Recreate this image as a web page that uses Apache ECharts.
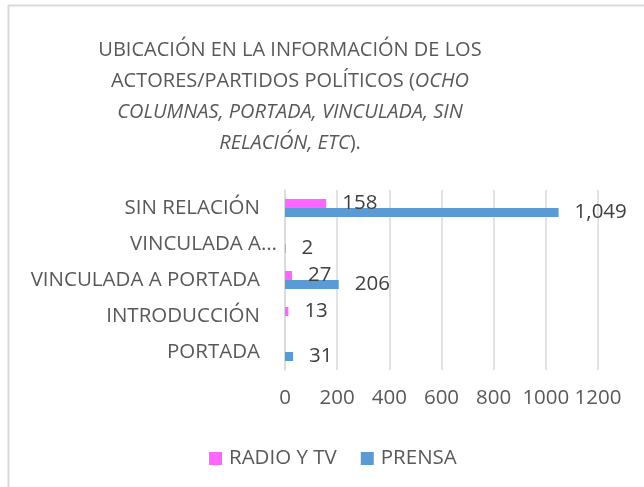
<!DOCTYPE html>
<html><head><meta charset="utf-8">
<script src="https://cdn.jsdelivr.net/npm/echarts@6/dist/echarts.min.js"></script>
<style>html,body{margin:0;padding:0;background:#fff}#c{width:644px;height:487px}</style>
</head><body><div id="c"></div>
<script>
const categories = ['PORTADA', 'INTRODUCCIÓN', 'VINCULADA A PORTADA', 'VINCULADA A…', 'SIN RELACIÓN'];
const radioTv = [null, 13, 27, null, 158];
const prensa = [31, null, 206, 2, 1049];
const xTicks = [0, 200, 400, 600, 800, 1000, 1200];
const seriesNames = ['RADIO Y TV', 'PRENSA'];

const FONT = 'Open Sans';
const FS = 20.5;
const chart = echarts.init(document.getElementById('c'));
const lbl = {
  show: true, position: 'right', distance: 16, fontFamily: FONT, fontSize: FS, color: '#404040',
  formatter: p => p.value == null ? '' : Number(p.value).toLocaleString('en-US')
};
chart.setOption({
  animation: false,
  title: {
    left: 285, top: 30, textAlign: 'center',
    text: '{n|UBICACIÓN EN LA INFORMACIÓN DE LOS}\n{n|ACTORES/PARTIDOS POLÍTICOS (}{i|OCHO}\n{i|COLUMNAS, PORTADA, VINCULADA, SIN}\n{i|RELACIÓN, ETC}{n|).}',
    textStyle: {
      fontWeight: 'normal',
      rich: {
        n: { fontFamily: FONT, fontSize: 20, fontWeight: 'normal', color: '#595959', lineHeight: 31 },
        i: { fontFamily: FONT, fontSize: 20, fontWeight: 'normal', fontStyle: 'italic', color: '#595959', lineHeight: 31 }
      }
    }
  },
  legend: {
    left: 204, top: 443, itemWidth: 13, itemHeight: 13, itemGap: 24, icon: 'rect',
    data: seriesNames,
    textStyle: { fontFamily: FONT, fontSize: FS, color: '#595959', padding: [0, 0, 0, 2] }
  },
  grid: { left: 285, right: 46, top: 190, height: 180, containLabel: false },
  xAxis: {
    type: 'value', min: xTicks[0], max: xTicks[xTicks.length - 1], interval: 200,
    axisLine: { show: false }, axisTick: { show: false },
    splitLine: { lineStyle: { color: '#d9d9d9', width: 1.5 } },
    axisLabel: { margin: 18, fontFamily: FONT, fontSize: FS, color: '#595959', formatter: v => String(v) }
  },
  yAxis: {
    type: 'category', data: categories,
    axisLine: { lineStyle: { color: '#d9d9d9', width: 1.5 } }, axisTick: { show: false },
    axisLabel: {
      margin: 8, fontFamily: FONT, fontSize: FS, color: '#595959',
      formatter: v => v.endsWith('…') ? v : '{p|' + v + '}',
      rich: { p: { fontFamily: FONT, fontSize: FS, color: '#595959', padding: [0, 17, 0, 0] } }
    }
  },
  series: [
    { name: seriesNames[0], type: 'bar', data: radioTv, barWidth: 9, barGap: '0%', itemStyle: { color: '#FF66FF' }, label: lbl },
    { name: seriesNames[1], type: 'bar', data: prensa, barWidth: 9, barGap: '0%', itemStyle: { color: '#5B9BD5' }, label: lbl }
  ],
  graphic: [
    { type: 'line', shape: { x1: 8, y1: 5.5, x2: 644, y2: 5.5 }, style: { stroke: '#d9d9d9', lineWidth: 2 }, silent: true },
    { type: 'line', shape: { x1: 8.5, y1: 5, x2: 8.5, y2: 487 }, style: { stroke: '#d9d9d9', lineWidth: 2 }, silent: true }
  ]
});
</script></body></html>
